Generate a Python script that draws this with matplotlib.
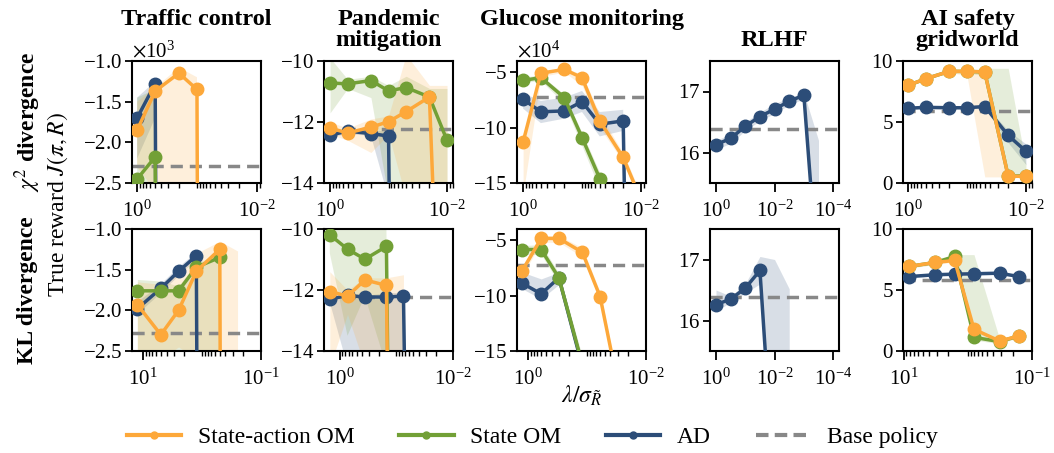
import numpy as np
import matplotlib
matplotlib.use("Agg")
import matplotlib.pyplot as plt
from matplotlib.ticker import LogLocator, NullFormatter, FixedLocator, ScalarFormatter
from matplotlib.lines import Line2D

plt.rcParams["font.family"] = "serif"
plt.rcParams["font.serif"] = ["Liberation Serif", "DejaVu Serif"]
plt.rcParams["mathtext.fontset"] = "stix"
plt.rcParams["axes.formatter.use_mathtext"] = True

ORANGE = "#FDA83A"
GREEN = "#72A036"
BLUE = "#2C4D78"
GREY = "#888888"

TITLES = ["Traffic control", "Pandemic\nmitigation", "Glucose monitoring", "RLHF", "AI safety\ngridworld"]
ROW_LABELS = [r"$\chi^2$ divergence", "KL divergence"]

# ---- Traffic control (chi^2) ----
traffic_chi_x = [1, 0.5, 0.2, 0.1, 0.05]
traffic_chi_saom = [-1850, -1370, -1150, -1350, -60000]
traffic_chi_saom_lo = [-2300, -2600, -2600, -2600, -60000]
traffic_chi_saom_hi = [-1500, -1330, -1080, -1200, -60000]
traffic_chi_som = [-2450, -2180, -60000]
traffic_chi_som_lo = [-2600, -2600, -60000]
traffic_chi_som_hi = [-1450, -1350, -60000]
traffic_chi_ad = [-1700, -1280, -60000]
traffic_chi_ad_lo = [-2200, -1700, -60000]
traffic_chi_ad_hi = [-1450, -1250, -60000]
traffic_base = -2290

# ---- Traffic control (KL) ----
traffic_kl_x = [12.5, 5, 2.5, 1.25, 0.5, 0.25]
traffic_kl_saom = [-1930, -2300, -2000, -1520, -1250, -60000]
traffic_kl_saom_lo = [-2600, -2600, -2450, -2600, -2600, -2600]
traffic_kl_saom_hi = [-1650, -1680, -1550, -1300, -1150, -1270]
traffic_kl_som = [-1760, -1760, -1760, -1470, -1350]
traffic_kl_som_lo = [-2600, -2600, -2500, -2600, -2600]
traffic_kl_som_hi = [-1620, -1640, -1700, -1420, -1300]
traffic_kl_ad = [-1980, -1730, -1520, -1330, -60000]
traffic_kl_ad_lo = [-2050, -1790, -1580, -1380, -60000]
traffic_kl_ad_hi = [-1900, -1680, -1470, -1290, -60000]
traffic_kl_base = -2280

# ---- Pandemic mitigation (chi^2) ----
pandemic_chi_x = [1, 0.5, 0.2, 0.1, 0.05, 0.02, 0.01]
pandemic_chi_saom = [-12.2, -12.36, -12.17, -11.99, -11.66, -11.18, -26]
pandemic_chi_saom_lo = [-12.4, -12.6, -13.0, -12.4, -14.5, -14.5, -14.5]
pandemic_chi_saom_hi = [-12.0, -12.2, -11.9, -11.8, -9.8, -10.8, -10.8]
pandemic_chi_som = [-10.72, -10.75, -10.64, -10.98, -10.87, -11.18, -12.6]
pandemic_chi_som_lo = [-11.7, -10.9, -11.2, -14.5, -14.5, -14.5, -14.5]
pandemic_chi_som_hi = [-9.9, -10.6, -10.5, -10.8, -10.5, -10.9, -10.9]
pandemic_chi_ad = [-12.43, -12.3, -12.38, -12.46, -60]
pandemic_chi_ad_lo = [-12.5, -12.4, -12.45, -14.5, -60]
pandemic_chi_ad_hi = [-12.35, -12.22, -12.3, -12.3, -60]
pandemic_base = -12.24

# ---- Pandemic mitigation (KL) ----
pandemic_kl_x = [1.5, 0.73, 0.36, 0.15, 0.075, 0.03]
pandemic_kl_saom = [-12.05, -12.2, -11.67, -11.85, -60]
pandemic_kl_saom_lo = [-14.5, -12.8, -14.5, -14.5, -14.5]
pandemic_kl_saom_hi = [-11.4, -12.0, -11.6, -11.6, -11.5]
pandemic_kl_som = [-10.19, -10.66, -10.99, -10.57, -60]
pandemic_kl_som_lo = [-10.8, -13.5, -12.2, -14.5, -60]
pandemic_kl_som_hi = [-10.0, -10.0, -10.0, -10.0, -60]
pandemic_kl_ad = [-12.3, -12.18, -12.23, -12.23, -12.2, -60]
pandemic_kl_ad_lo = [-12.4, -14.5, -14.5, -14.5, -14.5, -60]
pandemic_kl_ad_hi = [-12.25, -12.1, -12.2, -12.1, -12.1, -60]
pandemic_kl_base = -12.23

# ---- Glucose monitoring (chi^2), units of 1e4 ----
GLUCOSE_UNIT = 1e4
glucose_chi_x = [1, 0.5, 0.2, 0.1, 0.05, 0.02, 0.01]
glucose_chi_saom = [-11.3, -5.1, -4.76, -5.5, -9.4, -12.7, -16.5]
glucose_chi_saom_lo = [-16.0, -5.4, -5.0, -6.2, -10.0, -13.1, -17.0]
glucose_chi_saom_hi = [-10.6, -4.9, -4.6, -5.2, -8.8, -12.3, -16.0]
glucose_chi_som = [-5.75, -5.5, -7.3, -10.9, -14.6, -60]
glucose_chi_som_lo = [-6.0, -5.8, -7.8, -11.6, -15.5, -60]
glucose_chi_som_hi = [-5.5, -5.3, -7.0, -10.4, -14.0, -60]
glucose_chi_ad = [-7.45, -8.58, -8.5, -7.66, -9.7, -9.4, -100]
glucose_chi_ad_lo = [-8.3, -9.6, -9.2, -8.6, -10.8, -10.3, -100]
glucose_chi_ad_hi = [-6.9, -7.6, -7.3, -6.7, -8.6, -8.4, -100]
glucose_base = -7.25

# ---- Glucose monitoring (KL) ----
glucose_kl_x = [1.25, 0.6, 0.3, 0.12, 0.06, 0.03]
glucose_kl_saom = [-7.75, -4.85, -4.85, -6.1, -10.1, -18]
glucose_kl_saom_lo = [-8.2, -5.2, -5.2, -6.5, -10.5, -18.5]
glucose_kl_saom_hi = [-7.3, -4.6, -4.6, -5.7, -9.7, -17.5]
glucose_kl_som = [-5.85, -5.85, -8.4, -16.2]
glucose_kl_som_lo = [-6.3, -6.3, -8.9, -17.0]
glucose_kl_som_hi = [-5.5, -5.4, -8.0, -15.5]
glucose_kl_ad = [-8.9, -9.85, -8.4, -16.4]
glucose_kl_ad_lo = [-9.4, -10.3, -9.0, -17.0]
glucose_kl_ad_hi = [-7.9, -8.5, -7.9, -16.0]
glucose_kl_base = -7.25

# ---- RLHF (chi^2) ----
rlhf_chi_x = [1, 0.316, 0.1, 0.0316, 0.01, 0.00316, 0.001, 0.000316]
rlhf_chi_ad = [16.13, 16.23, 16.43, 16.59, 16.71, 16.84, 16.94, 13.8]
rlhf_chi_ad_lo = [16.05, 16.15, 16.36, 16.52, 16.64, 16.78, 16.88, 13.0]
rlhf_chi_ad_hi = [16.2, 16.3, 16.5, 16.66, 16.8, 16.9, 16.98, 16.2]
rlhf_base = 16.39

# ---- RLHF (KL) ----
rlhf_kl_x = [1, 0.316, 0.1, 0.0316, 0.01, 0.00316]
rlhf_kl_ad = [16.26, 16.35, 16.53, 16.82, 13.2, 10.0]
rlhf_kl_ad_lo = [16.15, 16.3, 16.45, 16.6, 13.0, 10.0]
rlhf_kl_ad_hi = [16.5, 16.4, 16.6, 17.05, 17.0, 16.52]
rlhf_kl_base = 16.38

# ---- AI safety gridworld (chi^2) ----
ai_chi_x = [1, 0.5, 0.2, 0.1, 0.05, 0.02, 0.01]
ai_chi_saom = [8.0, 8.55, 9.15, 9.15, 9.1, 0.55, 0.55]
ai_chi_saom_lo = [7.9, 8.45, 9.05, 8.8, 0.5, 0.5, 0.5]
ai_chi_saom_hi = [8.1, 8.65, 9.25, 9.25, 9.2, 0.65, 0.65]
ai_chi_som = [8.0, 8.55, 9.15, 9.15, 9.1, 0.55, 0.6]
ai_chi_som_lo = [7.9, 8.45, 9.05, 9.0, 8.8, 0.5, 0.5]
ai_chi_som_hi = [8.1, 8.65, 9.25, 9.25, 9.4, 9.4, 1.5]
ai_chi_ad = [6.13, 6.2, 6.17, 6.17, 6.27, 3.9, 2.6]
ai_chi_ad_lo = [6.03, 6.1, 6.07, 6.07, 6.15, 3.3, 1.5]
ai_chi_ad_hi = [6.23, 6.3, 6.27, 6.27, 6.4, 4.3, 3.2]
ai_base = 5.9

# ---- AI safety gridworld (KL) ----
ai_kl_x = [8.3, 3.2, 1.6, 0.8, 0.32, 0.16]
ai_kl_saom = [6.93, 7.26, 7.42, 1.78, 0.82, 1.23]
ai_kl_saom_lo = [6.8, 7.1, 7.3, 1.6, 0.7, 1.1]
ai_kl_saom_hi = [7.05, 7.4, 7.55, 1.95, 0.95, 1.4]
ai_kl_som = [6.93, 7.26, 7.75, 1.12, 0.77, 1.23]
ai_kl_som_lo = [6.8, 7.1, 7.6, 0.9, 0.6, 1.1]
ai_kl_som_hi = [7.05, 7.4, 7.9, 7.9, 1.0, 1.4]
ai_kl_ad = [6.1, 6.25, 6.3, 6.33, 6.38, 6.1]
ai_kl_ad_lo = [6.0, 6.15, 6.2, 6.23, 6.28, 6.0]
ai_kl_ad_hi = [6.2, 6.35, 6.4, 6.43, 6.48, 6.2]
ai_kl_base = 5.85


def S(x, m, lo, hi, color, scale=1.0):
    n = len(m)
    return dict(x=np.array(x[:n]), m=np.array(m) * scale, lo=np.array(lo) * scale,
                hi=np.array(hi) * scale, color=color)


G = GLUCOSE_UNIT
# series order per panel: AD first, then state OM, then state-action OM on top
panels = [
    # row 0 (chi^2)
    dict(series=[S(traffic_chi_x, traffic_chi_ad, traffic_chi_ad_lo, traffic_chi_ad_hi, BLUE),
                 S(traffic_chi_x, traffic_chi_som, traffic_chi_som_lo, traffic_chi_som_hi, GREEN),
                 S(traffic_chi_x, traffic_chi_saom, traffic_chi_saom_lo, traffic_chi_saom_hi, ORANGE)],
         base=traffic_base, ylim=(-2500, -1000), yticks=[-2500, -2000, -1500, -1000],
         xlim=(1.22, 0.0085), xmaj=[1, 0.01], sci=3),
    dict(series=[S(pandemic_chi_x, pandemic_chi_ad, pandemic_chi_ad_lo, pandemic_chi_ad_hi, BLUE),
                 S(pandemic_chi_x, pandemic_chi_som, pandemic_chi_som_lo, pandemic_chi_som_hi, GREEN),
                 S(pandemic_chi_x, pandemic_chi_saom, pandemic_chi_saom_lo, pandemic_chi_saom_hi, ORANGE)],
         base=pandemic_base, ylim=(-14, -10), yticks=[-14, -12, -10],
         xlim=(1.27, 0.0079), xmaj=[1, 0.01]),
    dict(series=[S(glucose_chi_x, glucose_chi_ad, glucose_chi_ad_lo, glucose_chi_ad_hi, BLUE, G),
                 S(glucose_chi_x, glucose_chi_som, glucose_chi_som_lo, glucose_chi_som_hi, GREEN, G),
                 S(glucose_chi_x, glucose_chi_saom, glucose_chi_saom_lo, glucose_chi_saom_hi, ORANGE, G)],
         base=glucose_base * G, ylim=(-150000, -40000), yticks=[-150000, -100000, -50000],
         xlim=(1.27, 0.0082), xmaj=[1, 0.01], sci=4),
    dict(series=[S(rlhf_chi_x, rlhf_chi_ad, rlhf_chi_ad_lo, rlhf_chi_ad_hi, BLUE)],
         base=rlhf_base, ylim=(15.5, 17.5), yticks=[16, 17],
         xlim=(1.6, 10 ** -4.2), xmaj=[1, 0.01, 0.0001], nominor=True),
    dict(series=[S(ai_chi_x, ai_chi_ad, ai_chi_ad_lo, ai_chi_ad_hi, BLUE),
                 S(ai_chi_x, ai_chi_som, ai_chi_som_lo, ai_chi_som_hi, GREEN),
                 S(ai_chi_x, ai_chi_saom, ai_chi_saom_lo, ai_chi_saom_hi, ORANGE)],
         base=ai_base, ylim=(0, 10), yticks=[0, 5, 10],
         xlim=(1.22, 0.0079), xmaj=[1, 0.01]),
    # row 1 (KL)
    dict(series=[S(traffic_kl_x, traffic_kl_ad, traffic_kl_ad_lo, traffic_kl_ad_hi, BLUE),
                 S(traffic_kl_x, traffic_kl_som, traffic_kl_som_lo, traffic_kl_som_hi, GREEN),
                 S(traffic_kl_x, traffic_kl_saom, traffic_kl_saom_lo, traffic_kl_saom_hi, ORANGE)],
         base=traffic_kl_base, ylim=(-2500, -1000), yticks=[-2500, -2000, -1500, -1000],
         xlim=(15.4, 0.1), xmaj=[10, 0.1], sci=3, hide_offset=True),
    dict(series=[S(pandemic_kl_x, pandemic_kl_ad, pandemic_kl_ad_lo, pandemic_kl_ad_hi, BLUE),
                 S(pandemic_kl_x, pandemic_kl_som, pandemic_kl_som_lo, pandemic_kl_som_hi, GREEN),
                 S(pandemic_kl_x, pandemic_kl_saom, pandemic_kl_saom_lo, pandemic_kl_saom_hi, ORANGE)],
         base=pandemic_kl_base, ylim=(-14, -10), yticks=[-14, -12, -10],
         xlim=(1.9, 0.01), xmaj=[1, 0.01]),
    dict(series=[S(glucose_kl_x, glucose_kl_ad, glucose_kl_ad_lo, glucose_kl_ad_hi, BLUE, G),
                 S(glucose_kl_x, glucose_kl_som, glucose_kl_som_lo, glucose_kl_som_hi, GREEN, G),
                 S(glucose_kl_x, glucose_kl_saom, glucose_kl_saom_lo, glucose_kl_saom_hi, ORANGE, G)],
         base=glucose_kl_base * G, ylim=(-150000, -40000), yticks=[-150000, -100000, -50000],
         xlim=(1.54, 0.01), xmaj=[1, 0.01], sci=4, hide_offset=True),
    dict(series=[S(rlhf_kl_x, rlhf_kl_ad, rlhf_kl_ad_lo, rlhf_kl_ad_hi, BLUE)],
         base=rlhf_kl_base, ylim=(15.5, 17.5), yticks=[16, 17],
         xlim=(1.6, 10 ** -4.2), xmaj=[1, 0.01, 0.0001], nominor=True),
    dict(series=[S(ai_kl_x, ai_kl_ad, ai_kl_ad_lo, ai_kl_ad_hi, BLUE),
                 S(ai_kl_x, ai_kl_som, ai_kl_som_lo, ai_kl_som_hi, GREEN),
                 S(ai_kl_x, ai_kl_saom, ai_kl_saom_lo, ai_kl_saom_hi, ORANGE)],
         base=ai_kl_base, ylim=(0, 10), yticks=[0, 5, 10],
         xlim=(10.2, 0.1), xmaj=[10, 0.1]),
]

W, H = 1054, 453
fig = plt.figure(figsize=(W / 100, H / 100), dpi=100)

col_left = [132, 324, 517, 710, 903]
row_top = [61, 229]
aw, ah = 129, 122

TICK_FS = 15

for i, p in enumerate(panels):
    r, c = divmod(i, 5)
    ax = fig.add_axes([col_left[c] / W, 1 - (row_top[r] + ah) / H, aw / W, ah / H])
    ax.set_xscale("log")

    for s in p["series"]:
        ax.fill_between(s["x"], s["lo"], s["hi"], color=s["color"], alpha=0.18, lw=0)
    for s in p["series"]:
        ax.plot(s["x"], s["m"], color=s["color"], lw=2.5, marker="o", ms=9, zorder=3)
    ax.axhline(p["base"], color=GREY, lw=2.5, ls=(0, (3.5, 2)), zorder=2)

    ax.set_xlim(*p["xlim"])
    ax.set_ylim(*p["ylim"])
    ax.set_yticks(p["yticks"])
    ax.xaxis.set_major_locator(FixedLocator(p["xmaj"]))
    if p.get("nominor"):
        ax.xaxis.set_minor_locator(FixedLocator([]))
    else:
        ax.xaxis.set_minor_locator(LogLocator(base=10, subs=np.arange(1, 10), numticks=50))
    ax.xaxis.set_minor_formatter(NullFormatter())

    if "sci" in p:
        fmt = ScalarFormatter(useMathText=True)
        fmt.set_powerlimits((p["sci"], p["sci"]))
        ax.yaxis.set_major_formatter(fmt)
        ax.yaxis.get_offset_text().set_fontsize(TICK_FS)
        if p.get("hide_offset"):
            ax.yaxis.get_offset_text().set_visible(False)

    ax.tick_params(axis="x", which="major", length=6.5, width=1.3, labelsize=TICK_FS, pad=6)
    ax.tick_params(axis="x", which="minor", length=3.5, width=1.0)
    ax.tick_params(axis="y", which="major", length=5, width=1.3, labelsize=TICK_FS, pad=2)
    for sp in ax.spines.values():
        sp.set_linewidth(1.5)

    if r == 0:
        ax.set_title(TITLES[c], fontsize=17.5, fontweight="bold", pad=11, linespacing=1.0)

# row labels and shared axis labels
for r, lab in enumerate(ROW_LABELS):
    yc = 1 - (row_top[r] + ah / 2) / H
    fig.text(28 / W, yc, lab, rotation=90, fontsize=17, fontweight="bold", ha="center", va="center")
fig.text(58 / W, 1 - 205 / H, r"True reward $J(\pi, R)$", rotation=90, fontsize=17,
         ha="center", va="center")
fig.text(582 / W, 1 - 396 / H, r"$\lambda/\sigma_{\tilde{R}}$", fontsize=17, ha="center", va="center")

handles = [
    Line2D([], [], color=ORANGE, lw=3, marker="o", ms=5),
    Line2D([], [], color=GREEN, lw=3, marker="o", ms=5),
    Line2D([], [], color=BLUE, lw=3, marker="o", ms=5),
    Line2D([], [], color=GREY, lw=3, ls=(0, (3, 1.5))),
]
labels = ["State-action OM", "State OM", "AD", "Base policy"]
fig.legend(handles, labels, loc="center", bbox_to_anchor=(0.505, 1 - 437 / H), ncol=4,
           frameon=False, fontsize=17, handlelength=2.3, columnspacing=1.9, handletextpad=0.7)

fig.savefig("out.png", dpi=100)
